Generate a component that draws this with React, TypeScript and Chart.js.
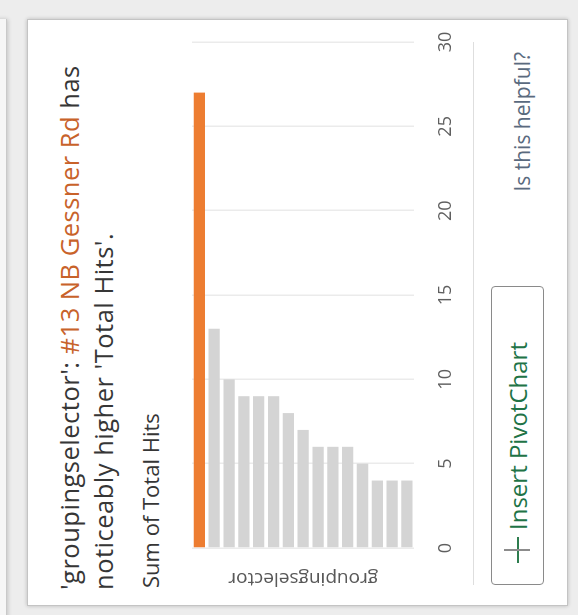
import React, { useEffect, useRef } from "react";
import { Chart, registerables } from "chart.js";

Chart.register(...registerables);

// ---- data ----
const categories: string[] = [
  "#13 NB Gessner Rd",
  "Selector 2",
  "Selector 3",
  "Selector 4",
  "Selector 5",
  "Selector 6",
  "Selector 7",
  "Selector 8",
  "Selector 9",
  "Selector 10",
  "Selector 11",
  "Selector 12",
  "Selector 13",
  "Selector 14",
  "Selector 15",
];
const totalHits: number[] = [27, 13, 10, 9, 9, 9, 8, 7, 6, 6, 6, 5, 4, 4, 4];
const valueTicks: number[] = [0, 5, 10, 15, 20, 25, 30];
const highlightCategory = "#13 NB Gessner Rd";
const fieldName = "groupingselector";
const measureName = "Total Hits";

const FONT = "'Open Sans', 'Noto Sans', sans-serif";
const ORANGE = "#ed7d31";
const GRAY = "#d4d4d4";

function BarChart() {
  const ref = useRef<HTMLCanvasElement | null>(null);
  useEffect(() => {
    if (!ref.current) return;
    const chart = new Chart(ref.current, {
      type: "bar",
      data: {
        labels: categories,
        datasets: [
          {
            label: "Sum of " + measureName,
            data: totalHits,
            backgroundColor: categories.map((c) => (c === highlightCategory ? ORANGE : GRAY)),
            borderWidth: 0,
            barPercentage: 0.76,
            categoryPercentage: 1,
          },
        ],
      },
      options: {
        indexAxis: "y",
        animation: false,
        responsive: false,
        devicePixelRatio: 1,
        layout: { padding: { left: 0, top: 12, right: 17, bottom: 3 } },
        plugins: { legend: { display: false }, tooltip: { enabled: false } },
        scales: {
          x: {
            type: "linear",
            position: "bottom",
            min: 0,
            max: 30,
            afterBuildTicks: (axis: any) => {
              axis.ticks = valueTicks.map((v) => ({ value: v }));
            },
            grid: {
              color: "#ebebeb",
              lineWidth: 1.5,
              drawTicks: true,
              tickLength: 18,
              tickColor: "rgba(0,0,0,0)",
            },
            border: { display: false },
            ticks: {
              padding: 3,
              color: "#5f5f5f",
              font: { family: FONT, size: 18 },
            },
          },
          y: {
            type: "category",
            position: "left",
            grid: { display: false, drawTicks: false },
            border: { display: false },
            ticks: { display: false },
            title: {
              display: true,
              text: fieldName,
              color: "#595959",
              font: { family: FONT, size: 19 },
              padding: { top: 5.6, bottom: 18.6 },
            },
          },
        },
      },
    });
    return () => chart.destroy();
  }, []);
  return (
    <canvas
      ref={ref}
      width={570}
      height={283}
      style={{ position: "absolute", left: 20, top: 180, width: 570, height: 283 }}
    />
  );
}

export default function App() {
  return (
    <div
      style={{
        position: "fixed",
        left: 0,
        top: 0,
        width: 578,
        height: 615,
        overflow: "hidden",
        background: "#ededed",
        fontFamily: FONT,
      }}
    >
      <div
        style={{
          position: "absolute",
          left: 0,
          top: 0,
          width: 615,
          height: 578,
          transformOrigin: "0 0",
          transform: "translateY(615px) rotate(-90deg)",
        }}
      >
        {/* neighbouring panel edge */}
        <div
          style={{
            position: "absolute",
            left: -10,
            top: -6,
            width: 606,
            height: 12,
            background: "#f6f6f6",
            borderBottom: "1px solid #c9c9c9",
            boxShadow: "0 1px 4px rgba(0,0,0,0.18)",
          }}
        />
        {/* card */}
        <div
          style={{
            position: "absolute",
            left: 9,
            top: 27,
            width: 587,
            height: 541,
            boxSizing: "border-box",
            background: "#ffffff",
            border: "1px solid #c4c4c4",
            boxShadow: "0 0 4px rgba(0,0,0,0.22)",
          }}
        />
        {/* headline */}
        <div
          style={{
            position: "absolute",
            left: 25,
            top: 52,
            width: 585,
            fontSize: 25.5,
            letterSpacing: "0.5px",
            lineHeight: "34px",
            color: "#363636",
            whiteSpace: "nowrap",
          }}
        >
          <div>
            '{fieldName}': <span style={{ color: "#c8622a" }}>{highlightCategory}</span> has
          </div>
          <div>noticeably higher '{measureName}'.</div>
        </div>
        {/* subtitle */}
        <div
          style={{
            position: "absolute",
            left: 27,
            top: 135,
            fontSize: 22,
            lineHeight: "30px",
            color: "#363636",
            whiteSpace: "nowrap",
          }}
        >
          Sum of {measureName}
        </div>
        <BarChart />
        {/* separator */}
        <div
          style={{ position: "absolute", left: 30, top: 473, width: 543, height: 1, background: "#dedede" }}
        />
        {/* helpful */}
        <div
          style={{
            position: "absolute",
            left: 363,
            top: 508,
            width: 200,
            textAlign: "right",
            fontSize: 21,
            lineHeight: "28px",
            color: "#5a6a7e",
            whiteSpace: "nowrap",
          }}
        >
          Is this helpful?
        </div>
        {/* button */}
        <div
          style={{
            position: "absolute",
            left: 30,
            top: 491,
            width: 299,
            height: 53,
            boxSizing: "border-box",
            border: "1px solid #8a8a8a",
            borderRadius: 4,
            background: "#ffffff",
          }}
        >
          <div style={{ position: "absolute", left: 21, top: 25, width: 26, height: 1.5, background: "#2e7d4f" }} />
          <div style={{ position: "absolute", left: 33, top: 12, width: 1.5, height: 26, background: "#8c8c8c" }} />
          <div
            style={{
              position: "absolute",
              left: 54,
              top: 0,
              lineHeight: "51px",
              fontSize: 24,
              color: "#217346",
              whiteSpace: "nowrap",
            }}
          >
            Insert PivotChart
          </div>
        </div>
      </div>
    </div>
  );
}
